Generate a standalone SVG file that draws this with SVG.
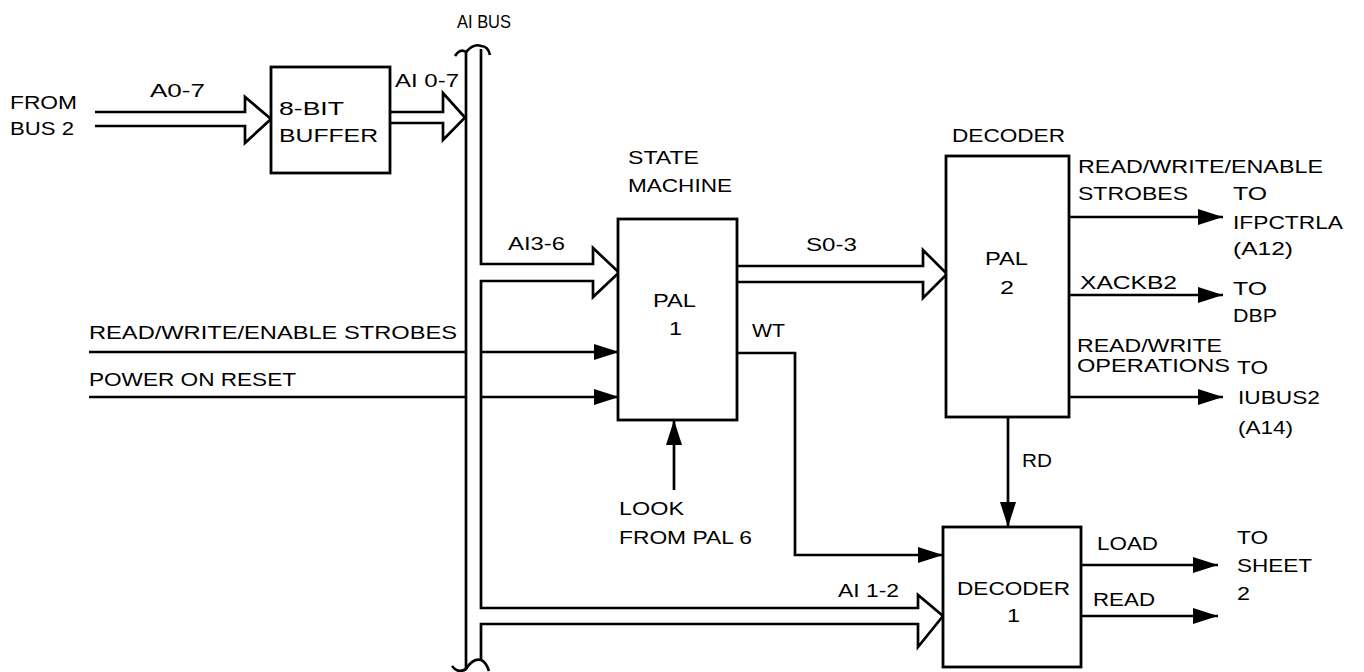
<svg xmlns="http://www.w3.org/2000/svg" width="1364" height="672" viewBox="0 0 1364 672">
<style>
.ln{fill:none;stroke:#000;stroke-width:2.7;stroke-linejoin:miter}
.box{fill:#fff;stroke:#000;stroke-width:2.8}
.bus{fill:#fff;stroke:#000;stroke-width:2.7;stroke-linejoin:miter}
text{font-family:"Liberation Sans",Arial,sans-serif;font-size:19px;fill:#000}
</style>
<defs>
<marker id="ah" viewBox="0 0 25 16" refX="25" refY="8" markerWidth="25" markerHeight="16" markerUnits="userSpaceOnUse" orient="auto">
<path d="M0,0 L25,8 L0,16 Z" fill="#000"/>
</marker>
</defs>
<rect width="1364" height="672" fill="#fff"/>

<g id="connectors">
  <path class="ln" d="M466,52 V668"/>
  <path class="bus" d="M481,49 V264 H593 V248 L619,272.5 L593,297 V281 H481 V608 H918 V595 L943,616 L918,647 V624 H481 V660"/>
  <path class="ln" d="M455,56 Q460,48 466,52 Q474,43 481,46 Q488,46 490,55"/>
  <path class="ln" d="M452,666 Q458,674 466,669 Q473,658 481,660 Q486,662 489,671"/>
  <path class="bus" d="M95,112 H245 V97 L271,119 L245,143 V126 H95"/>
  <path class="bus" d="M390,112 H443 V93 L465,117.5 L443,140 V123 H390"/>
  <path class="bus" d="M737,266 H923 V250 L947,274 L923,298 V282 H737"/>
  <path class="ln" d="M89,352 H466"/>
  <path class="ln" d="M481,352 H619" marker-end="url(#ah)"/>
  <path class="ln" d="M89,397 H466"/>
  <path class="ln" d="M481,397 H619" marker-end="url(#ah)"/>
  <path class="ln" d="M674,490 V420" marker-end="url(#ah)"/>
  <path class="ln" d="M737,353 H795 V555 H943" marker-end="url(#ah)"/>
  <path class="ln" d="M1008,417 V527" marker-end="url(#ah)"/>
  <path class="ln" d="M1069,217 H1223" marker-end="url(#ah)"/>
  <path class="ln" d="M1069,295 H1223" marker-end="url(#ah)"/>
  <path class="ln" d="M1069,397 H1223" marker-end="url(#ah)"/>
  <path class="ln" d="M1081,565 H1218" marker-end="url(#ah)"/>
  <path class="ln" d="M1081,616 H1218" marker-end="url(#ah)"/>
</g>

<g id="buffer">
  <rect class="box" x="271" y="67" width="119" height="106"/>
  <text x="279" y="115" textLength="65" lengthAdjust="spacingAndGlyphs">8-BIT</text>
  <text x="279" y="142" textLength="99" lengthAdjust="spacingAndGlyphs">BUFFER</text>
</g>

<g id="pal1">
  <rect class="box" x="618" y="219" width="119" height="201"/>
  <text x="653" y="307" textLength="43" lengthAdjust="spacingAndGlyphs">PAL</text>
  <text x="669" y="335" textLength="13" lengthAdjust="spacingAndGlyphs">1</text>
</g>

<g id="pal2">
  <rect class="box" x="946" y="156" width="123" height="261"/>
  <text x="985" y="265" textLength="43" lengthAdjust="spacingAndGlyphs">PAL</text>
  <text x="1000" y="294" textLength="14" lengthAdjust="spacingAndGlyphs">2</text>
</g>

<g id="decoder1">
  <rect class="box" x="943" y="527" width="138" height="140"/>
  <text x="957" y="595" textLength="113" lengthAdjust="spacingAndGlyphs">DECODER</text>
  <text x="1007" y="622" textLength="13" lengthAdjust="spacingAndGlyphs">1</text>
</g>

<g id="labels">
  <text x="457" y="28" textLength="54" lengthAdjust="spacingAndGlyphs">AI BUS</text>
  <text x="10" y="109" textLength="67" lengthAdjust="spacingAndGlyphs">FROM</text>
  <text x="10" y="135" textLength="64" lengthAdjust="spacingAndGlyphs">BUS 2</text>
  <text x="150" y="97" textLength="55" lengthAdjust="spacingAndGlyphs">A0-7</text>
  <text x="395" y="87" textLength="64" lengthAdjust="spacingAndGlyphs">AI 0-7</text>
  <text x="628" y="164" textLength="71" lengthAdjust="spacingAndGlyphs">STATE</text>
  <text x="628" y="192" textLength="104" lengthAdjust="spacingAndGlyphs">MACHINE</text>
  <text x="508" y="250" textLength="57" lengthAdjust="spacingAndGlyphs">AI3-6</text>
  <text x="806" y="251" textLength="51" lengthAdjust="spacingAndGlyphs">S0-3</text>
  <text x="752" y="337" textLength="33" lengthAdjust="spacingAndGlyphs">WT</text>
  <text x="89" y="339" textLength="368" lengthAdjust="spacingAndGlyphs">READ/WRITE/ENABLE STROBES</text>
  <text x="89" y="386" textLength="207" lengthAdjust="spacingAndGlyphs">POWER ON RESET</text>
  <text x="619" y="515" textLength="65" lengthAdjust="spacingAndGlyphs">LOOK</text>
  <text x="619" y="544" textLength="133" lengthAdjust="spacingAndGlyphs">FROM PAL 6</text>
  <text x="838" y="597" textLength="61" lengthAdjust="spacingAndGlyphs">AI 1-2</text>
  <text x="952" y="142" textLength="113" lengthAdjust="spacingAndGlyphs">DECODER</text>
  <text x="1078" y="173" textLength="245" lengthAdjust="spacingAndGlyphs">READ/WRITE/ENABLE</text>
  <text x="1078" y="200" textLength="110" lengthAdjust="spacingAndGlyphs">STROBES</text>
  <text x="1233" y="200" textLength="34" lengthAdjust="spacingAndGlyphs">TO</text>
  <text x="1233" y="229" textLength="110" lengthAdjust="spacingAndGlyphs">IFPCTRLA</text>
  <text x="1233" y="255" textLength="60" lengthAdjust="spacingAndGlyphs">(A12)</text>
  <text x="1080" y="289" textLength="97" lengthAdjust="spacingAndGlyphs">XACKB2</text>
  <text x="1233" y="295" textLength="34" lengthAdjust="spacingAndGlyphs">TO</text>
  <text x="1233" y="322" textLength="44" lengthAdjust="spacingAndGlyphs">DBP</text>
  <text x="1077" y="352" textLength="145" lengthAdjust="spacingAndGlyphs">READ/WRITE</text>
  <text x="1077" y="372" textLength="153" lengthAdjust="spacingAndGlyphs">OPERATIONS</text>
  <text x="1237" y="374" textLength="31" lengthAdjust="spacingAndGlyphs">TO</text>
  <text x="1238" y="404" textLength="82" lengthAdjust="spacingAndGlyphs">IUBUS2</text>
  <text x="1238" y="434" textLength="55" lengthAdjust="spacingAndGlyphs">(A14)</text>
  <text x="1022" y="467" textLength="30" lengthAdjust="spacingAndGlyphs">RD</text>
  <text x="1097" y="550" textLength="61" lengthAdjust="spacingAndGlyphs">LOAD</text>
  <text x="1093" y="606" textLength="62" lengthAdjust="spacingAndGlyphs">READ</text>
  <text x="1237" y="544" textLength="31" lengthAdjust="spacingAndGlyphs">TO</text>
  <text x="1237" y="572" textLength="75" lengthAdjust="spacingAndGlyphs">SHEET</text>
  <text x="1237" y="600" textLength="13" lengthAdjust="spacingAndGlyphs">2</text>
</g>
</svg>
